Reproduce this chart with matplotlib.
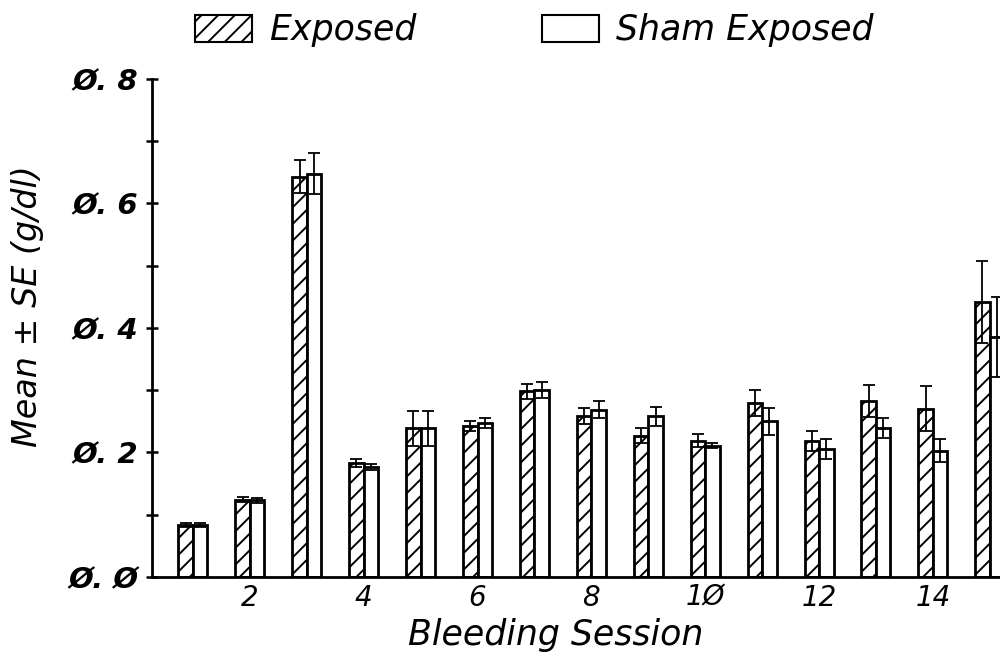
import numpy as np
import matplotlib
matplotlib.use("Agg")
import matplotlib.pyplot as plt
from matplotlib.patches import Patch

# data (g/dl)
sessions = np.arange(1, 16)
exposed = [0.084, 0.124, 0.643, 0.183, 0.239, 0.243, 0.298, 0.259, 0.227, 0.219,
           0.280, 0.218, 0.283, 0.270, 0.442]
exposed_se = [0.003, 0.004, 0.026, 0.006, 0.028, 0.008, 0.012, 0.013, 0.012, 0.010,
              0.021, 0.016, 0.026, 0.036, 0.066]
sham = [0.083, 0.123, 0.648, 0.177, 0.239, 0.247, 0.300, 0.269, 0.258, 0.211,
        0.250, 0.206, 0.239, 0.203, 0.386]
sham_se = [0.003, 0.004, 0.033, 0.005, 0.028, 0.008, 0.013, 0.013, 0.015, 0.004,
           0.022, 0.016, 0.016, 0.018, 0.064]

ytick_vals = [0.0, 0.2, 0.4, 0.6, 0.8]
ytick_labels = ["Ø. Ø", "Ø. 2", "Ø. 4", "Ø. 6", "Ø. 8"]
xtick_vals = [2, 4, 6, 8, 10, 12, 14]
xtick_labels = ["2", "4", "6", "8", "1Ø", "12", "14"]

plt.rcParams["font.family"] = ["DejaVu Sans"]
plt.rcParams["hatch.linewidth"] = 1.4

fig = plt.figure(figsize=(10, 6.58), dpi=100)
ax = fig.add_axes([0.152, 0.1231, 0.848, 0.757])

w = 0.255
ax.bar(sessions - w, exposed, width=w, align="edge", facecolor="white",
       edgecolor="black", hatch="//", linewidth=2)
ax.bar(sessions, sham, width=w, align="edge", facecolor="white",
       edgecolor="black", linewidth=2)
ax.errorbar(sessions - w / 2, exposed, yerr=exposed_se, fmt="none",
            ecolor="black", elinewidth=1.3, capsize=4, capthick=1.3)
ax.errorbar(sessions + w / 2, sham, yerr=sham_se, fmt="none",
            ecolor="black", elinewidth=1.3, capsize=4, capthick=1.3)

ax.set_xlim(0.28, 15.18)
ax.set_ylim(0, 0.8)

for s in ["top", "right"]:
    ax.spines[s].set_visible(False)
ax.spines["left"].set_linewidth(2)
ax.spines["bottom"].set_linewidth(2)

ax.set_yticks(np.arange(0, 0.81, 0.1), minor=True)
ax.set_yticks(ytick_vals)
ax.set_yticklabels(ytick_labels, fontsize=21, fontweight="bold", fontstyle="oblique")
ax.tick_params(axis="y", which="both", direction="inout", length=8, width=1.8, pad=6)
ax.set_xticks(xtick_vals)
ax.set_xticklabels(xtick_labels, fontsize=20, fontstyle="oblique")
ax.tick_params(axis="x", length=0, pad=5)

fig.text(0.556, 0.02, "Bleeding Session", fontsize=25, fontstyle="oblique",
         ha="center", va="baseline")
fig.text(0.028, 0.535, "Mean ± SE (g/dl)", fontsize=24, fontstyle="oblique",
         rotation=90, ha="center", va="center")

handles = [Patch(facecolor="white", edgecolor="black", hatch="//", linewidth=1.5),
           Patch(facecolor="white", edgecolor="black", linewidth=1.5)]
fig.legend(handles, ["Exposed", "Sham Exposed"], loc="center left",
           bbox_to_anchor=(0.195, 0.954), ncol=2, frameon=False,
           prop={"size": 25, "style": "oblique"}, handlelength=1.64,
           handleheight=0.84, handletextpad=0.5, columnspacing=3.6,
           borderaxespad=0, borderpad=0)

fig.savefig("out.png", dpi=100)
